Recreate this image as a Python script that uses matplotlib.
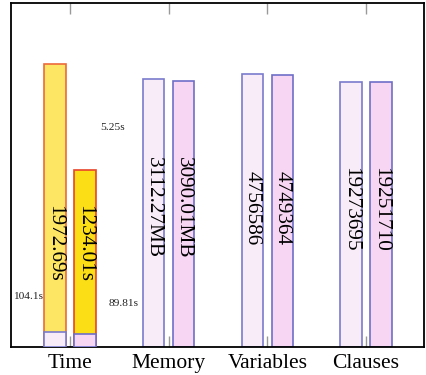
import matplotlib.pyplot as plt

# Metrics and values (two runs per metric)
categories = ["Time", "Memory", "Variables", "Clauses"]
run_a = [1972.69, 3112.27, 4756586, 19273695]
run_b = [1234.01, 3090.01, 4749364, 19251710]
labels_a = ["1972.69s", "3112.27MB", "4756586", "19273695"]
labels_b = ["1234.01s", "3090.01MB", "4749364", "19251710"]
# full scale of the axis for each metric
full_scale = [2400, 4000, 6.0e6, 2.5e7]

# small base parts of the time bars
time_base = [104.1, 89.81]
base_labels = ["104.1s", "89.81s", "5.25s"]

plt.rcParams['font.family'] = ['Liberation Serif', 'DejaVu Serif']

fig = plt.figure(figsize=(4.26, 3.75), dpi=100)
ax = fig.add_axes([11 / 426, 28 / 375, 413 / 426, 344 / 375])

x = list(range(len(categories)))
off = 0.152
w = 0.218

fill_a = ["#FDE664", "#F8ECF8", "#F8ECF8", "#F8ECF8"]
edge_a = ["#EC6A3A", "#7A7ACC", "#7A7ACC", "#7A7ACC"]
fill_b = ["#FCDE16", "#F6D6F2", "#F6D6F2", "#F6D6F2"]
edge_b = ["#E8432A", "#6E6EC8", "#6E6EC8", "#6E6EC8"]

ha = [v / s for v, s in zip(run_a, full_scale)]
hb = [v / s for v, s in zip(run_b, full_scale)]
ax.bar([i - off for i in x], ha, w, color=fill_a, edgecolor=edge_a, linewidth=1.2, zorder=2)
ax.bar([i + off for i in x], hb, w, color=fill_b, edgecolor=edge_b, linewidth=1.2, zorder=2)

# base parts of time bars
ax.bar([0 - off], [time_base[0] / full_scale[0]], w, color="#F8ECF8", edgecolor="#7A7ACC", linewidth=1.2, zorder=3)
ax.bar([0 + off], [time_base[1] / full_scale[0]], w, color="#F6D6F2", edgecolor="#6E6EC8", linewidth=1.2, zorder=3)

# rotated value labels
label_y = [0.30, 0.405, 0.405, 0.40]
for i in x:
    ax.text(i - off, label_y[i], labels_a[i], rotation=-90, ha='center', va='center',
            fontsize=15.3, zorder=4)
    ax.text(i + off, label_y[i], labels_b[i], rotation=-90, ha='center', va='center',
            fontsize=15.3, zorder=4)

# stray small labels
ax.text(-0.426, 0.148, base_labels[0], ha='center', va='center', fontsize=8.2, color="#222222")
ax.text(0.547, 0.125, base_labels[1], ha='center', va='center', fontsize=8.2, color="#222222")
ax.text(0.436, 0.637, base_labels[2], ha='center', va='center', fontsize=8.2, color="#222222")

ax.set_xlim(-0.598, 3.587)
ax.set_ylim(0, 1)
ax.set_xticks(x)
ax.set_xticklabels(categories, fontsize=15.5)
ax.set_yticks([])
ax.tick_params(axis='x', direction='in', length=8, color='#999999', width=1,
               top=True, bottom=True, pad=5)
for s in ax.spines.values():
    s.set_linewidth(1.3)
    s.set_color('black')

fig.savefig("out.png", dpi=100)
